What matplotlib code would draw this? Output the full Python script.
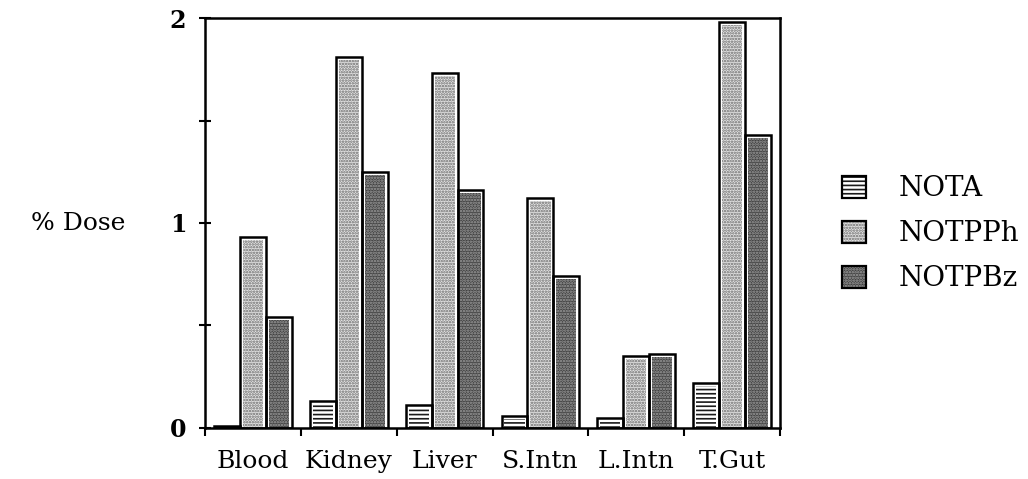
import numpy as np
import matplotlib
matplotlib.use("Agg")
import matplotlib.pyplot as plt
from matplotlib.patches import Patch
from matplotlib.legend_handler import HandlerTuple

# ---------------------------------------------------------
# DATA
# ---------------------------------------------------------
tissues = ["Blood", "Kidney", "Liver", "S.Intn", "L.Intn", "T.Gut"]
series_names = ["NOTA", "NOTPPh", "NOTPBz"]
nota = [0.01, 0.13, 0.11, 0.06, 0.05, 0.22]
notpph = [0.93, 1.81, 1.73, 1.12, 0.35, 1.98]
notpbz = [0.54, 1.25, 1.16, 0.74, 0.36, 1.43]

# fill colour, hatch, hatch colour for each series
STYLES = {
    "NOTA": ("white", "----", "#1a1a1a"),
    "NOTPPh": ("#e4e4e4", "......", "#6a6a6a"),
    "NOTPBz": ("#424242", "......", "#a0a0a0"),
}

plt.rcParams["font.family"] = ["DejaVu Serif"]
plt.rcParams["hatch.linewidth"] = 1.2

fig = plt.figure(figsize=(10.28, 4.79), dpi=100)
ax = fig.add_axes([0.1994, 0.1065, 0.5594, 0.8559])

x = np.arange(len(tissues)) + 0.5
width = 0.27
dx, dy = 0.03, 0.015  # inset of the pattern inside the black frame

for i, (name, vals) in enumerate(zip(series_names, [nota, notpph, notpbz])):
    vals = np.asarray(vals)
    face, hatch, hcol = STYLES[name]
    pos = x + (i - 1) * width
    # pattern fill
    ax.bar(pos, np.maximum(vals - dy, 0), width=width - 2 * dx,
           color=face, edgecolor=hcol, hatch=hatch, linewidth=0, zorder=2)
    # black frame
    ax.bar(pos, vals, width=width, fill=False, edgecolor="black",
           linewidth=1.8, zorder=3)

ax.set_xlim(0, len(tissues))
ax.set_ylim(0, 2)

for s in ax.spines.values():
    s.set_linewidth(1.8)

ax.set_xticks(x)
ax.set_xticklabels(tissues, fontsize=18)
ax.set_xticks(np.arange(len(tissues) + 1), minor=True)
ax.tick_params(axis="x", which="major", length=0, pad=16)
ax.tick_params(axis="x", which="minor", direction="out", length=6, width=1.5)

ax.set_yticks([0, 1, 2])
ax.set_yticklabels(["0", "1", "2"], fontsize=17, fontweight="bold")
ax.set_yticks([0.5, 1.5], minor=True)
ax.tick_params(axis="y", which="both", direction="inout", length=9, width=1.5, pad=9)

ax.set_ylabel("% Dose", rotation=0, fontsize=18, ha="center", va="center")
ax.yaxis.set_label_coords(-0.221, 0.498)

# legend with framed swatches
handles = []
for name in series_names:
    face, hatch, hcol = STYLES[name]
    fill = Patch(facecolor=face, edgecolor=hcol, hatch=hatch, linewidth=0)
    frame = Patch(fill=False, edgecolor="black", linewidth=1.6)
    handles.append((fill, frame))

fig.legend(handles, series_names, loc="center left",
           bbox_to_anchor=(0.819, 0.512), frameon=False, fontsize=20,
           handler_map={tuple: HandlerTuple(ndivide=1, pad=0)},
           handlelength=0.85, handleheight=0.85, handletextpad=1.2,
           labelspacing=0.65, borderpad=0, borderaxespad=0)

fig.savefig("out.png", dpi=100)
